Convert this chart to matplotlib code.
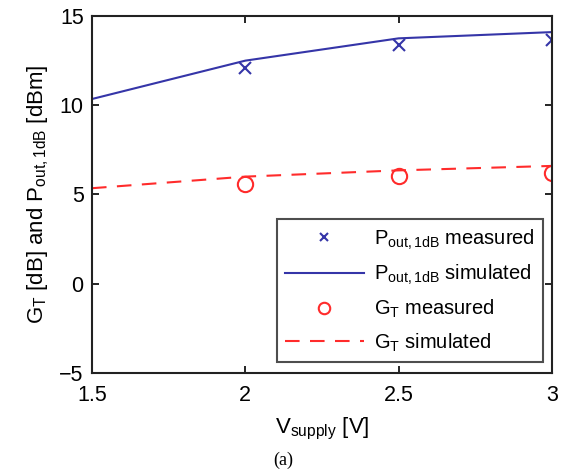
import matplotlib
matplotlib.use('Agg')
import matplotlib.pyplot as plt

plt.rcParams['font.family'] = ['Liberation Sans', 'DejaVu Sans']
plt.rcParams['mathtext.fontset'] = 'custom'
plt.rcParams['mathtext.rm'] = 'Liberation Sans'
plt.rcParams['mathtext.it'] = 'Liberation Sans'

# supply voltages
v_sim = [1.5, 2.0, 2.5, 3.0]
v_meas = [2.0, 2.5, 3.0]

# output 1dB compression point [dBm]
p_sim = [10.35, 12.5, 13.75, 14.1]
p_meas = [12.1, 13.4, 13.65]

# transducer gain [dB]
g_sim = [5.35, 6.0, 6.35, 6.6]
g_meas = [5.6, 6.05, 6.2]

blue = '#3535a8'
red = '#ff2b2b'

fig = plt.figure(figsize=(5.66, 4.72), dpi=100)
ax = fig.add_axes([0.1625, 0.21, 0.8125, 0.756])

ax.plot(v_meas, p_meas, 'x', color=blue, ms=8, mew=1.5, label=r'P$_{\mathrm{out,1dB}}$ measured')
ax.plot(v_sim, p_sim, '-', color=blue, lw=1.5, label=r'P$_{\mathrm{out,1dB}}$ simulated')
ax.plot(v_meas, g_meas, 'o', color=red, mfc='none', ms=11, mew=1.5, label=r'G$_{\mathrm{T}}$ measured')
ax.plot(v_sim, g_sim, '--', color=red, lw=1.5, dashes=(7, 5), label=r'G$_{\mathrm{T}}$ simulated')

ax.set_xlim(1.5, 3)
ax.set_ylim(-5, 15)
ax.set_xticks([1.5, 2, 2.5, 3])
ax.set_xticklabels(['1.5', '2', '2.5', '3'])
ax.set_yticks([-5, 0, 5, 10, 15])
ax.set_yticklabels(['\u22125', '0', '5', '10', '15'])
ax.tick_params(direction='in', top=True, right=True, labelsize=15.5, length=5, width=1.2)
ax.tick_params(axis='x', pad=9)
ax.tick_params(axis='y', pad=6)
for s in ax.spines.values():
    s.set_linewidth(1.5)
    s.set_color('#222222')

ax.set_xlabel(r'V$_{\mathrm{supply}}$ [V]', fontsize=16, labelpad=7)
ax.set_ylabel(r'G$_{\mathrm{T}}$ [dB] and P$_{\mathrm{out,1dB}}$ [dBm]', fontsize=16, labelpad=6)

leg = ax.legend(loc='lower right', fontsize=14.5, frameon=True, fancybox=False,
                edgecolor='#222222', borderpad=0.4, labelspacing=0.55,
                handlelength=3.9, handletextpad=0.5, markerscale=0.75,
                borderaxespad=0, bbox_to_anchor=(0.98, 0.031))
leg.get_frame().set_linewidth(1.5)

fig.text(0.5, 0.025, '(a)', ha='center', va='center', fontsize=13, family='Liberation Serif')

fig.savefig('out.png', dpi=100)
